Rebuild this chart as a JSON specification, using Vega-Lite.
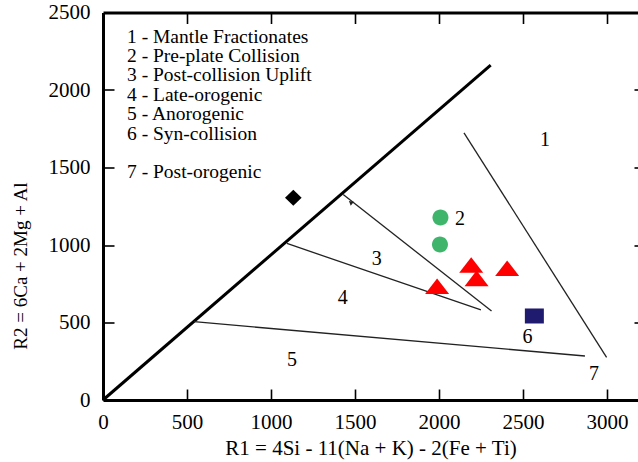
{
  "$schema": "https://vega.github.io/schema/vega-lite/v6.json",
  "width": 535,
  "height": 387.5,
  "autosize": {"type": "none"},
  "padding": {"left": 103, "top": 12.5, "right": 0, "bottom": 62},
  "background": "white",
  "config": {
    "view": {"stroke": null},
    "font": "Liberation Serif, Times New Roman, serif",
    "axis": {
      "grid": false,
      "domainColor": "black",
      "domainWidth": 3,
      "ticks": true,
      "tickColor": "black",
      "tickWidth": 1.6,
      "tickOpacity": 1,
      "tickSize": 11,
      "tickRound": true,
      "labelFont": "Liberation Serif, Times New Roman, serif",
      "labelFontSize": 21,
      "labelColor": "black",
      "format": "d",
      "titleFont": "Liberation Serif, Times New Roman, serif",
      "titleFontWeight": "normal",
      "titleColor": "black"
    }
  },
  "datasets": {
    "thick": [
      {"x": 0, "y": 0},
      {"x": 2308, "y": 2161}
    ],
    "thin": [
      {"line": "a", "x": 2149, "y": 1724},
      {"line": "a", "x": 2998, "y": 275},
      {"line": "b", "x": 542, "y": 505},
      {"line": "b", "x": 2869, "y": 284},
      {"line": "c", "x": 1095, "y": 1010},
      {"line": "c", "x": 2250, "y": 581},
      {"line": "d", "x": 1430, "y": 1326},
      {"line": "d", "x": 2313, "y": 574}
    ],
    "points": [
      {"type": "diamond", "x": 1133, "y": 1305},
      {"type": "circle", "x": 2009, "y": 1178},
      {"type": "circle", "x": 2006, "y": 1004},
      {"type": "triangle", "x": 1989, "y": 734},
      {"type": "triangle", "x": 2192, "y": 871},
      {"type": "triangle", "x": 2224, "y": 785},
      {"type": "triangle", "x": 2406, "y": 850},
      {"type": "square", "x": 2568, "y": 542}
    ],
    "arrow": [{"x": 1474, "y": 1275}],
    "legend": [
      {"x": 143, "y": 2344, "label": "1 - Mantle Fractionates"},
      {"x": 143, "y": 2219, "label": "2 - Pre-plate Collision"},
      {"x": 143, "y": 2097, "label": "3 - Post-collision Uplift"},
      {"x": 143, "y": 1968, "label": "4 - Late-orogenic"},
      {"x": 143, "y": 1845, "label": "5 - Anorogenic"},
      {"x": 143, "y": 1716, "label": "6 - Syn-collision"},
      {"x": 143, "y": 1471, "label": "7 - Post-orogenic"}
    ],
    "regions": [
      {"x": 2631, "y": 1677, "label": "1"},
      {"x": 2125, "y": 1168, "label": "2"},
      {"x": 1629, "y": 908, "label": "3"},
      {"x": 1427, "y": 656, "label": "4"},
      {"x": 1125, "y": 258, "label": "5"},
      {"x": 2527, "y": 405, "label": "6"},
      {"x": 2923, "y": 168, "label": "7"}
    ]
  },
  "layer": [
    {
      "data": {"name": "thick"},
      "mark": {"type": "line", "color": "black", "strokeWidth": 3},
      "encoding": {
        "x": {
          "field": "x", "type": "quantitative",
          "scale": {"domain": [0, 3185], "nice": false, "zero": false},
          "axis": {"orient": "bottom", "values": [0, 500, 1000, 1500, 2000, 2500, 3000], "ticks": false, "labelPadding": 11, "title": "R1 = 4Si - 11(Na + K) - 2(Fe + Ti)", "titleFontSize": 21, "titleBaseline": "middle", "titleY": 48, "labelFlush": false}
        },
        "y": {
          "field": "y", "type": "quantitative",
          "scale": {"domain": [0, 2500], "nice": false, "zero": false},
          "axis": {"orient": "left", "values": [0, 500, 1000, 1500, 2000, 2500], "ticks": false, "labelPadding": 13, "title": "R2 = 6Ca + 2Mg + Al", "titleFontSize": 19, "titleAngle": -90, "titleBaseline": "middle", "titleAlign": "center", "titleX": -83, "titleY": 253, "labelFlush": false}
        }
      }
    },
    {
      "data": {"name": "thin"},
      "mark": {"type": "line", "color": "#222", "strokeWidth": 1.3},
      "encoding": {
        "x": {"field": "x", "type": "quantitative", "axis": {"orient": "bottom", "offset": -11, "domain": false, "ticks": true, "values": [500, 1000, 1500, 2000, 2500, 3000], "labels": false, "title": null}},
        "y": {"field": "y", "type": "quantitative", "axis": {"orient": "left", "offset": -11, "domain": false, "ticks": true, "values": [500, 1000, 1500, 2000], "labels": false, "title": null}},
        "detail": {"field": "line"}
      }
    },
    {
      "data": {"name": "arrow"},
      "mark": {"type": "point", "shape": "triangle-up", "filled": true, "color": "#222", "size": 25, "angle": 308, "opacity": 1},
      "encoding": {
        "x": {"field": "x", "type": "quantitative", "axis": {"orient": "top", "offset": -11, "domain": false, "ticks": true, "values": [500, 1000, 1500, 2000, 2500, 3000], "labels": false, "title": null}},
        "y": {"field": "y", "type": "quantitative", "axis": {"orient": "right", "offset": -4, "tickSize": 4, "domain": false, "ticks": true, "values": [500, 1000, 1500, 2000], "labels": false, "title": null}}
      }
    },
    {
      "data": {"name": "points"},
      "mark": {"type": "point", "filled": true, "size": 400, "opacity": 1},
      "encoding": {
        "x": {"field": "x", "type": "quantitative", "axis": {"orient": "top", "ticks": false, "labels": false, "title": null}},
        "y": {"field": "y", "type": "quantitative", "axis": null},
        "shape": {
          "field": "type", "type": "nominal", "legend": null,
          "scale": {
            "domain": ["diamond", "circle", "triangle", "square"],
            "range": [
              "M0,-0.8L0.83,0L0,0.8L-0.83,0Z",
              "M0.8,0A0.8,0.8,0,1,1,-0.8,0A0.8,0.8,0,1,1,0.8,0Z",
              "M-1.2,0.78L1.2,0.78L0,-0.78Z",
              "M-0.95,-0.75L0.95,-0.75L0.95,0.75L-0.95,0.75Z"
            ]
          }
        },
        "color": {
          "field": "type", "type": "nominal", "legend": null,
          "scale": {
            "domain": ["diamond", "circle", "triangle", "square"],
            "range": ["#000000", "#3fb56b", "#ff0000", "#1f1b6e"]
          }
        }
      }
    },
    {
      "data": {"name": "legend"},
      "mark": {"type": "text", "align": "left", "baseline": "middle", "fontSize": 19.5, "color": "black"},
      "encoding": {
        "x": {"field": "x", "type": "quantitative", "axis": null},
        "y": {"field": "y", "type": "quantitative", "axis": null},
        "text": {"field": "label"}
      }
    },
    {
      "data": {"name": "regions"},
      "mark": {"type": "text", "align": "center", "baseline": "middle", "fontSize": 20, "color": "black"},
      "encoding": {
        "x": {"field": "x", "type": "quantitative", "axis": null},
        "y": {"field": "y", "type": "quantitative", "axis": null},
        "text": {"field": "label"}
      }
    }
  ],
  "resolve": {"axis": {"x": "independent", "y": "independent"}}
}
